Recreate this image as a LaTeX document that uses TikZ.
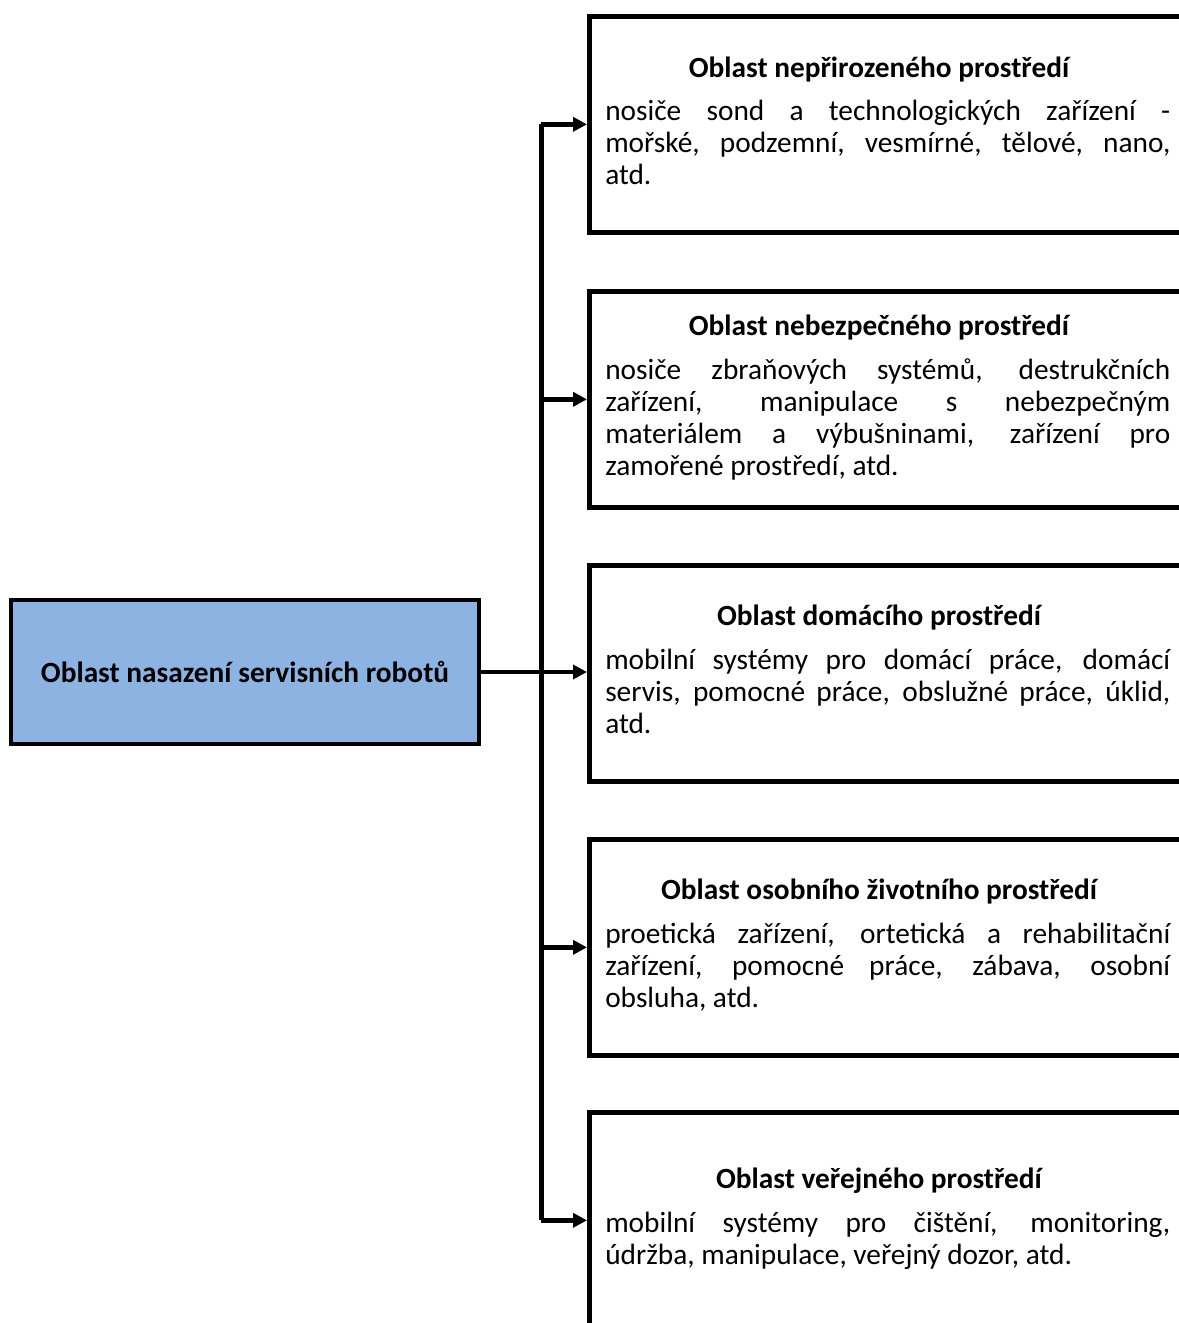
\documentclass[tikz,border=0pt]{standalone}
\usepackage{fontspec}
\setmainfont{Carlito}
\usetikzlibrary{positioning, arrows.meta}
\definecolor{robblue}{RGB}{141,179,226}
\tikzset{
    mainbox/.style={rectangle, draw=black, fill=robblue, line width=3.5pt, minimum width=351pt, minimum height=108pt, align=center, font=\fontsize{22pt}{24pt}\selectfont\bfseries},
    areabox/.style={rectangle, draw=black, line width=3.5pt, minimum width=480pt, minimum height=162pt, anchor=north west},
    areatitle/.style={anchor=base, inner sep=0pt, font=\fontsize{22pt}{24pt}\selectfont\bfseries},
    areatext/.style={anchor=base west, inner sep=0pt, text width=423.75pt, align=justify, font=\fontsize{22pt}{24pt}\selectfont},
    trunk/.style={line width=3.75pt},
    arr/.style={-{Triangle[length=10.5pt, width=10.5pt]}, line width=3.5pt}
}
\begin{document}
\begin{tikzpicture}[x=0.75pt, y=-0.75pt]
        \useasboundingbox (0,0) rectangle (1178,1323);
        \node[mainbox] (main) at (245,672) {Oblast nasazení servisních robotů};
        \node[areabox] (nepriroz) at (587,14)   {};
        \node[areabox] (nebezp)   at (587,289)  {};
        \node[areabox] (domaci)   at (587,563)  {};
        \node[areabox] (osobni)   at (587,837)  {};
        \node[areabox] (verejne)  at (587,1110) {};
        % titles and texts
        \node[areatitle] (t1) at (879,78) {Oblast nepřirozeného prostředí};
        \node[areatext]  (b1) at (605,121) {nosiče sond a technologických zařízení -\linebreak
          mořské, podzemní, vesmírné, tělové, nano,\linebreak atd.};
        \node[areatitle] (t2) at (879,335) {Oblast nebezpečného prostředí};
        \node[areatext]  (b2) at (605,379) {nosiče zbraňových systémů, destrukčních\linebreak
          zařízení, manipulace s nebezpečným\linebreak
          materiálem a výbušninami, zařízení pro\linebreak zamořené prostředí, atd.};
        \node[areatitle] (t3) at (879,625) {Oblast domácího prostředí};
        \node[areatext]  (b3) at (605,669) {mobilní systémy pro domácí práce, domácí\linebreak
          servis, pomocné práce, obslužné práce, úklid,\linebreak atd.};
        \node[areatitle] (t4) at (879,899) {Oblast osobního životního prostředí};
        \node[areatext]  (b4) at (605,943) {proetická zařízení, ortetická a rehabilitační\linebreak
          zařízení, pomocné práce, zábava, osobní\linebreak obsluha, atd.};
        \node[areatitle] (t5) at (879,1188) {Oblast veřejného prostředí};
        \node[areatext]  (b5) at (605,1232) {mobilní systémy pro čištění, monitoring,\linebreak
          údržba, manipulace, veřejný dozor, atd.};
        % connectors
        \coordinate (spine) at (541,0);
        \draw[trunk] (spine |- nepriroz.west) -- (spine |- verejne.west);
        \draw[arr] (main.east) -- (main.east -| domaci.west);
        \foreach \b in {nepriroz, nebezp, osobni, verejne}
          \draw[arr] (spine |- \b.west) -- (\b.west);
\end{tikzpicture}
\end{document}
